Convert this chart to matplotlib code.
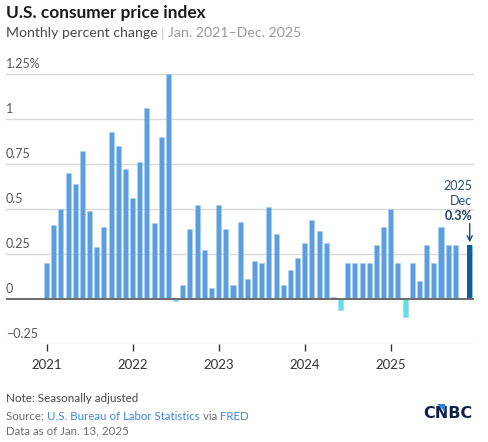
import numpy as np
import matplotlib
matplotlib.use("Agg")
from matplotlib import pyplot as plt
from matplotlib.patches import Polygon

plt.rcParams['font.family'] = ['Lato', 'DejaVu Sans']

# monthly CPI change, Jan 2021 - Dec 2025 (Nov 2025 not published)
cpi_2021 = [0.20, 0.41, 0.50, 0.70, 0.64, 0.82, 0.49, 0.29, 0.40, 0.93, 0.85, 0.72]
cpi_2022 = [0.56, 0.76, 1.06, 0.42, 0.90, 1.25, -0.01, 0.08, 0.39, 0.52, 0.27, 0.06]
cpi_2023 = [0.52, 0.39, 0.08, 0.43, 0.11, 0.21, 0.20, 0.51, 0.36, 0.08, 0.16, 0.23]
cpi_2024 = [0.31, 0.44, 0.38, 0.31, 0.01, -0.06, 0.20, 0.20, 0.20, 0.20, 0.30, 0.40]
cpi_2025 = [0.50, 0.20, -0.10, 0.20, 0.10, 0.30, 0.20, 0.40, 0.30, 0.30, None, 0.30]
years = ['2021', '2022', '2023', '2024', '2025']
ytick_vals = [-0.25, 0, 0.25, 0.5, 0.75, 1, 1.25]
ytick_labels = ['\u22120.25', '0', '0.25', '0.5', '0.75', '1', '1.25%']

values = np.array([np.nan if v is None else v
                   for v in cpi_2021 + cpi_2022 + cpi_2023 + cpi_2024 + cpi_2025], dtype=float)
idx = np.arange(len(values))

BLUE = '#5a9ee0'
CYAN = '#5fe1e8'
DARK = '#0c5e9e'
colors = [CYAN if v < 0 else BLUE for v in np.nan_to_num(values)]
colors[-1] = DARK

fig = plt.figure(figsize=(4.89, 4.42), dpi=100)
ax = fig.add_axes([6 / 489, 1 - 344 / 442, 468 / 489, 284 / 442])

for y in ytick_vals:
    if y == 0:
        continue
    ax.axhline(y, color='#d9d9d9', lw=1, zorder=0)

ax.bar(idx, np.nan_to_num(values), width=0.7, color=colors,
       edgecolor='#a9cdf2', linewidth=0.4, zorder=2)
ax.bar(idx[-1], values[-1], width=0.7, color=DARK, zorder=3)
ax.axhline(0, color='#6b6b6b', lw=1.4, zorder=4)

ax.set_xlim(-5.65, 59.6)
ax.set_ylim(-0.25, 1.328)
for s in ax.spines.values():
    s.set_visible(False)

ax.set_yticks([])
for y, lab in zip(ytick_vals, ytick_labels):
    ax.annotate(lab, xy=(0, y), xycoords=('axes fraction', 'data'),
                xytext=(0, 3), textcoords='offset points',
                ha='left', va='bottom', fontsize=9, color='#555555')

ax.set_xticks([i * 12 for i in range(len(years))])
ax.set_xticklabels(years)
ax.tick_params(axis='x', length=5, width=1, color='#333333', pad=6,
               labelsize=9.5, labelcolor='#333333')

# annotation for latest month
last = idx[-1]
ax.annotate('', xy=(last, values[-1] + 0.015), xytext=(last, 0.42),
            arrowprops=dict(arrowstyle='->', color='#1b4a78', lw=1,
                            mutation_scale=9, shrinkA=0, shrinkB=0))
ax.text(59.35, 0.63, '2025', ha='right', va='center', fontsize=9, color='#2c4f77')
ax.text(59.35, 0.545, 'Dec', ha='right', va='center', fontsize=9, color='#2c4f77')
ax.text(59.35, 0.46, '0.3%', ha='right', va='center', fontsize=9,
        fontweight='bold', color='#1b3f66')

# titles
fig.text(6 / 489, 1 - 13 / 442, 'U.S. consumer price index', ha='left', va='center',
         fontsize=12.4, fontweight='bold', color='#1a1a1a')
fig.canvas.draw()
renderer = fig.canvas.get_renderer()


def text_row(x0, y, pieces, size):
    x = x0
    for s, c in pieces:
        t = fig.text(x, y, s, ha='left', va='center', fontsize=size, color=c)
        bb = t.get_window_extent(renderer=renderer)
        x += bb.width / fig.bbox.width


text_row(6 / 489, 1 - 33 / 442,
         [('Monthly percent change ', '#4a4a4a'), ('| ', '#c8c8c8'),
          ('Jan. 2021\u2013Dec. 2025', '#9a9a9a')], 10.2)

# footer
text_row(6 / 489, 1 - 399 / 442, [('Note: Seasonally adjusted', '#444444')], 8.35)
text_row(6 / 489, 1 - 416 / 442,
         [('Source: ', '#6d6d6d'), ('U.S. Bureau of Labor Statistics', '#3f86d6'),
          (' via ', '#6d6d6d'), ('FRED', '#3f86d6')], 8.3)
text_row(6 / 489, 1 - 431 / 442, [('Data as of Jan. 13, 2025', '#6d6d6d')], 8.3)

# logo
fig.text(473 / 489, 1 - 414 / 442, 'CNBC', ha='right', va='center',
         fontsize=11.5, fontweight='bold', color='#0f2146', family='DejaVu Sans')
tri = Polygon([[437 / 489, 1 - 404 / 442], [445 / 489, 1 - 404 / 442],
               [445 / 489, 1 - 412 / 442]], closed=True, transform=fig.transFigure,
              facecolor='#2f7fe0', edgecolor='none', zorder=5)
fig.patches.append(tri)

fig.savefig('out.png', dpi=100)
